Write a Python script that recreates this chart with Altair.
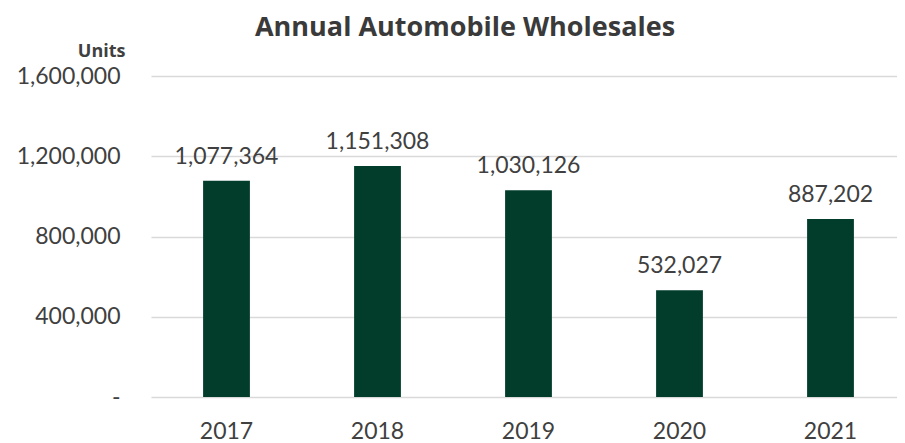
import altair as alt
import pandas as pd

years = ["2017", "2018", "2019", "2020", "2021"]
units = [1077364, 1151308, 1030126, 532027, 887202]
y_ticks = [0, 400000, 800000, 1200000, 1600000]

df = pd.DataFrame({"year": years, "units": units})

FONT = "Lato"
BOLD_FONT = "Open Sans"
TXT = "#404040"

x = alt.X(
    "year:N",
    sort=years,
    scale=alt.Scale(paddingInner=0.69, paddingOuter=0.345, range=[0, 755]),
    axis=alt.Axis(
        title=None, labelAngle=0, ticks=False, tickSize=0, domain=False,
        labelFontSize=23, labelFont=FONT, labelColor=TXT,
        labelPadding=34, labelBaseline="middle", grid=False,
    ),
)
y = alt.Y(
    "units:Q",
    scale=alt.Scale(domain=[0, 1600000], nice=False),
    axis=alt.Axis(
        values=y_ticks,
        labelExpr="datum.value == 0 ? '-\u00a0\u00a0' : format(datum.value, ',')",
        ticks=False, tickSize=0, domain=False,
        labelFontSize=23, labelFont=FONT, labelColor=TXT, labelPadding=31,
        labelBaseline="middle",
        gridColor="#D9D9D9", gridWidth=1.5,
        title="Units", titleAngle=0, titleAlign="right", titleBaseline="alphabetic",
        titleX=-26, titleY=-20, titleFont=BOLD_FONT, titleFontSize=18,
        titleFontWeight="bold", titleColor=TXT,
    ),
)

bars = alt.Chart(df).mark_bar(color="#023D2C").encode(x=x, y=y)
labels = alt.Chart(df).mark_text(
    baseline="alphabetic", dy=-17, fontSize=23, font=FONT, color=TXT
).encode(x=x, y=y, text=alt.Text("units:Q", format=","))

chart = (
    alt.layer(bars, labels)
    .properties(
        width=746,
        height=321,
        autosize=alt.AutoSizeParams(type="none"),
        padding={"left": 143, "top": 68, "right": 0, "bottom": 46},
        title=alt.Title(
            "Annual Automobile Wholesales",
            font=BOLD_FONT, fontSize=27, fontWeight="bold", color="#3a3a3a",
            anchor="middle", frame="group", dx=-59, dy=26,
            baseline="alphabetic", offset=5,
        ),
    )
    .configure_view(stroke=None)
)

chart.save("out.html", embed_options={"renderer": "svg", "actions": False})
